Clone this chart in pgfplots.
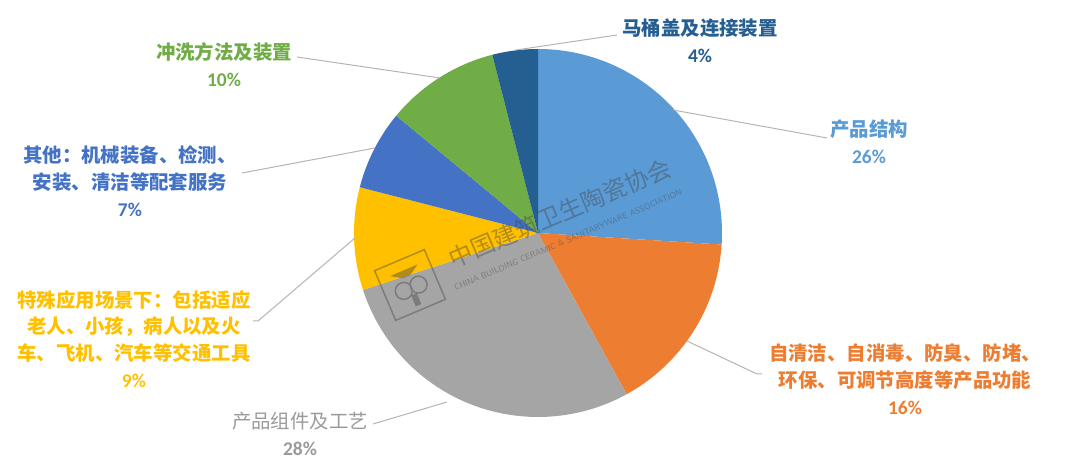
\documentclass[border=0pt]{standalone}
\usepackage{pgfplots}
\pgfplotsset{compat=1.18}
\usepackage{pgfplotstable}
\usepackage{fontspec}
\setmainfont{Carlito}
\newfontfamily\cjk{Noto Sans CJK SC}
\definecolor{c1}{HTML}{5B9BD5}
\definecolor{c2}{HTML}{ED7D31}
\definecolor{c3}{HTML}{A5A5A5}
\definecolor{c4}{HTML}{FFC000}
\definecolor{c5}{HTML}{4472C4}
\definecolor{c6}{HTML}{70AD47}
\definecolor{c7}{HTML}{255E91}
\definecolor{t3}{HTML}{9A9A9A}
\definecolor{leadercol}{HTML}{B4B4B4}
\definecolor{wm}{HTML}{404040}
\pgfplotstableread{
value color
26 c1
16 c2
28 c3
9 c4
7 c5
10 c6
4 c7
}\piedata
% cumulative angles and start points from the table
\gdef\curang{90}
\foreach \i/\n in {0/A,1/B,2/C,3/D,4/E,5/F,6/G} {
  \pgfplotstablegetelem{\i}{value}\of\piedata
  \pgfmathsetmacro\myend{\curang-3.6*\pgfplotsretval}
  \pgfmathsetmacro\mysx{538+184*cos(\curang)}
  \pgfmathsetmacro\mysy{235+184*sin(\curang)}
  \expandafter\xdef\csname pieS\n\endcsname{\curang}
  \expandafter\xdef\csname pieE\n\endcsname{\myend}
  \expandafter\xdef\csname pieX\n\endcsname{\mysx}
  \expandafter\xdef\csname pieY\n\endcsname{\mysy}
  \xdef\curang{\myend}
}
\newcommand\sector[2]{% #1 letter, #2 colour
  \begin{pgfscope}
  \pgfsetfillcolor{#2}
  \pgfpathmoveto{\pgfplotspointaxisxy{538}{235}}
  \pgfpathlineto{\pgfplotspointaxisxy{\csname pieX#1\endcsname}{\csname pieY#1\endcsname}}
  \pgfpatharc{\csname pieS#1\endcsname}{\csname pieE#1\endcsname}{184bp}
  \pgfpathclose
  \pgfusepath{fill}
  \end{pgfscope}
}
\newcommand\leader[1]{% list of x/y
  \begin{pgfscope}
  \pgfsetstrokecolor{leadercol}
  \pgfsetlinewidth{1bp}
  \def\first{1}
  \foreach \x/\y in {#1} {
    \ifnum\first=1 \pgfpathmoveto{\pgfplotspointaxisxy{\x}{\y}}\gdef\first{0}%
    \else \pgfpathlineto{\pgfplotspointaxisxy{\x}{\y}}\fi
  }
  \pgfusepath{stroke}
  \end{pgfscope}
}
\newcommand\lab[4]{% x, y, colour, body
  \pgftext[at=\pgfplotspointaxisxy{#1}{#2}]{\color{#3}\fontsize{19.5}{27}\selectfont\begin{tabular}{@{}c@{}}#4\end{tabular}}%
}
\begin{document}
\begin{tikzpicture}
\begin{axis}[
  x=1bp, y=1bp,
  xmin=0, xmax=1080, ymin=0, ymax=468,
  hide axis, clip=false, scale only axis,
]
\path (axis cs:0,0) rectangle (axis cs:1080,468);
\pgfplotsextra{
  \sector{A}{c1}
  \sector{B}{c2}
  \sector{C}{c3}
  \sector{D}{c4}
  \sector{E}{c5}
  \sector{F}{c6}
  \sector{G}{c7}
  % watermark
  \begin{pgfscope}
  \pgfsetfillopacity{0.4}
  \pgfsetstrokeopacity{0.4}
  \pgftext[at=\pgfplotspointaxisxy{560}{255},rotate=23]{\color{wm}\cjk\fontsize{24}{24}\selectfont 中国建筑卫生陶瓷协会}
  \pgftext[at=\pgfplotspointaxisxy{568}{228},rotate=23]{\color{wm}\sffamily\fontsize{8.5}{9}\selectfont CHINA BUILDING CERAMIC \& SANITARYWARE ASSOCIATION}
  \pgfsetstrokecolor{wm}
  \pgfsetfillcolor{wm}
  \pgfsetlinewidth{1.5bp}
  \pgftransformshift{\pgfplotspointaxisxy{410}{183}}
  \pgftransformrotate{23}
  \pgfpathrectangle{\pgfpoint{-27bp}{-27bp}}{\pgfpoint{54bp}{54bp}}
  \pgfpathcircle{\pgfpoint{-8bp}{-3bp}}{8.5bp}
  \pgfpathcircle{\pgfpoint{8bp}{-3bp}}{8.5bp}
  \pgfusepath{stroke}
  \pgfpathrectangle{\pgfpoint{-3bp}{-22bp}}{\pgfpoint{6bp}{12bp}}
  \pgfpathmoveto{\pgfpoint{-15bp}{16bp}}
  \pgfpathlineto{\pgfpoint{15bp}{16bp}}
  \pgfpathlineto{\pgfpoint{4bp}{9bp}}
  \pgfpathlineto{\pgfpoint{-4bp}{9bp}}
  \pgfpathclose
  \pgfusepath{fill}
  \end{pgfscope}
  % leader lines
  \leader{516/418,617/433}
  \leader{673/358,827/330}
  \leader{687/127,757/94,762/94}
  \leader{447/66,373/44}
  \leader{355/230,258/147,253/147}
  \leader{375/320,242/295}
  \leader{440/390,297/411}
  % labels
  \lab{700}{424}{c7}{{\cjk\bfseries 马桶盖及连接装置}\\\bfseries 4\%}
  \lab{869}{323}{c1}{{\cjk\bfseries 产品结构}\\\bfseries 26\%}
  \lab{905}{86}{c2}{{\cjk\bfseries 自清洁、自消毒、防臭、防堵、}\\{\cjk\bfseries 环保、可调节高度等产品功能}\\\bfseries 16\%}
  \lab{300}{31}{t3}{{\cjk 产品组件及工艺}\\\bfseries 28\%}
  \lab{134}{126}{c4}{{\cjk\bfseries 特殊应用场景下：包括适应}\\{\cjk\bfseries 老人、小孩，病人以及火}\\{\cjk\bfseries 车、飞机、汽车等交通工具}\\\bfseries 9\%}
  \lab{130}{284}{c5}{{\cjk\bfseries 其他：机械装备、检测、}\\{\cjk\bfseries 安装、清洁等配套服务}\\\bfseries 7\%}
  \lab{224}{400}{c6}{{\cjk\bfseries 冲洗方法及装置}\\\bfseries 10\%}
}
\end{axis}
\end{tikzpicture}
\end{document}
